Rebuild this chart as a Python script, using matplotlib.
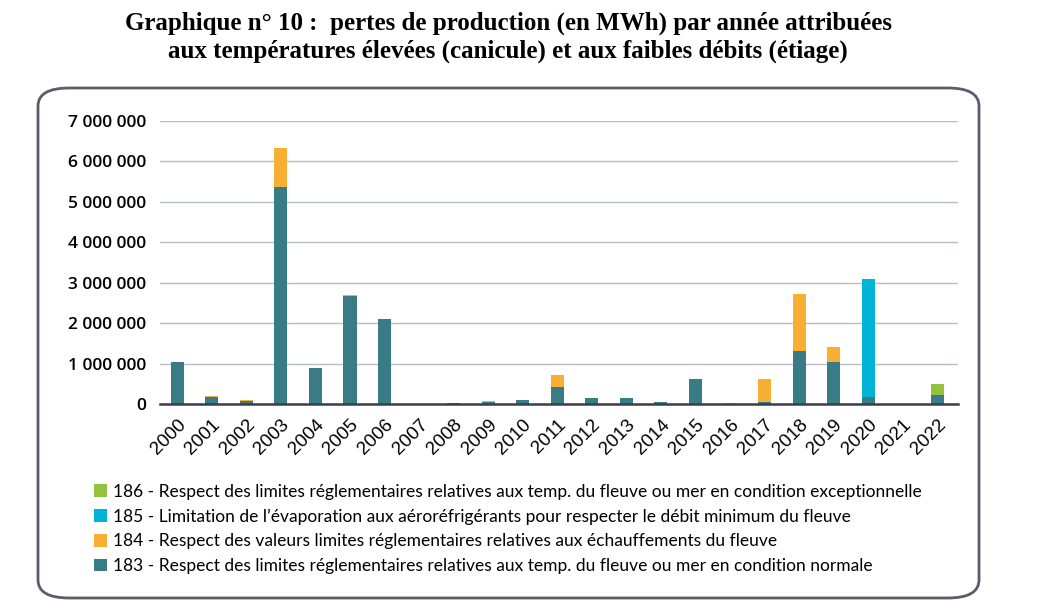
import numpy as np
import matplotlib
matplotlib.use("Agg")
import matplotlib.pyplot as plt
from matplotlib.patches import FancyBboxPatch

years = [str(y) for y in range(2000, 2023)]

# MWh par annee
s183 = [1030000, 165000, 80000, 5360000, 885000, 2670000, 2110000, 0, 33000, 55000,
        90000, 420000, 140000, 140000, 50000, 620000, 0, 40000, 1320000, 1030000,
        170000, 0, 230000]
s184 = [0, 35000, 20000, 960000, 0, 30000, 0, 0, 0, 30000,
        0, 300000, 0, 0, 0, 0, 30000, 580000, 1390000, 390000,
        0, 0, 0]
s185 = [0, 0, 0, 0, 0, 0, 0, 0, 0, 0,
        0, 0, 0, 0, 0, 0, 0, 0, 0, 0,
        2920000, 0, 0]
s186 = [0, 0, 0, 0, 0, 0, 0, 0, 0, 0,
        0, 0, 0, 0, 0, 0, 0, 0, 0, 0,
        0, 0, 270000]

labels = {
    "183": "183 - Respect des limites réglementaires relatives aux temp. du fleuve ou mer en condition normale",
    "184": "184 - Respect des valeurs limites réglementaires relatives aux échauffements du fleuve",
    "185": "185 - Limitation de l\u2019évaporation aux aéroréfrigérants pour respecter le débit minimum du fleuve",
    "186": "186 - Respect des limites réglementaires relatives aux temp. du fleuve ou mer en condition exceptionnelle",
}
colors = {"183": "#3a7c85", "184": "#f9af33", "185": "#00b4d8", "186": "#95c23d"}

fig = plt.figure(figsize=(10.46, 6), dpi=100)

fig.text(0.486, 0.962, "Graphique n° 10 :  pertes de production (en MWh) par année attribuées",
         ha="center", va="center", fontsize=18, fontweight="bold", family="Liberation Serif")
fig.text(0.486, 0.915, "aux températures élevées (canicule) et aux faibles débits (étiage)",
         ha="center", va="center", fontsize=18, fontweight="bold", family="Liberation Serif")

box = FancyBboxPatch((38 / 1046, 2 / 600), 941 / 1046, 510 / 600,
                     boxstyle="round,pad=0,rounding_size=0.03", transform=fig.transFigure,
                     fill=False, edgecolor="#5a5e6b", linewidth=2)
fig.patches.append(box)

ax = fig.add_axes([160 / 1046, 196 / 600, 798 / 1046, 283 / 600])
x = np.arange(len(years))
w = 0.38
a = np.array(s183)
b = np.array(s184)
c = np.array(s185)
d = np.array(s186)
h183 = ax.bar(x, a, w, color=colors["183"], zorder=3)
h184 = ax.bar(x, b, w, bottom=a, color=colors["184"], zorder=3)
h185 = ax.bar(x, c, w, bottom=a + b, color=colors["185"], zorder=3)
h186 = ax.bar(x, d, w, bottom=a + b + c, color=colors["186"], zorder=3)

ax.set_xlim(-0.5, 22.6)
ax.set_ylim(0, 7000000)
ax.set_yticks(np.arange(0, 7000001, 1000000))
ax.set_yticklabels(["0"] + [f"{v:,}".replace(",", " ") for v in range(1000000, 7000001, 1000000)],
                   family="Open Sans", fontsize=12.5, fontweight="semibold")
ax.yaxis.grid(True, color="#b8bcc4", linewidth=1, zorder=0)
for s in ["top", "right", "left"]:
    ax.spines[s].set_visible(False)
ax.spines["bottom"].set_color("#3b3e48")
ax.spines["bottom"].set_linewidth(1.8)
ax.spines["bottom"].set_zorder(4)
ax.tick_params(axis="both", length=0)
ax.tick_params(axis="y", pad=10)
ax.set_xticks(x)
ax.set_xticklabels(years, rotation=45, ha="right", rotation_mode="anchor",
                   family="Liberation Sans", fontsize=13.5)
ax.tick_params(axis="x", pad=9)

fig.legend([h186, h185, h184, h183],
           [labels["186"], labels["185"], labels["184"], labels["183"]],
           loc="upper left", bbox_to_anchor=(78 / 1046, 1 - 468 / 600),
           frameon=False, handlelength=0.75, handleheight=0.75, handletextpad=0.35,
           labelspacing=0.5, prop={"family": ["Lato", "DejaVu Sans"], "size": 12.5})

fig.savefig("out.png", dpi=100)
